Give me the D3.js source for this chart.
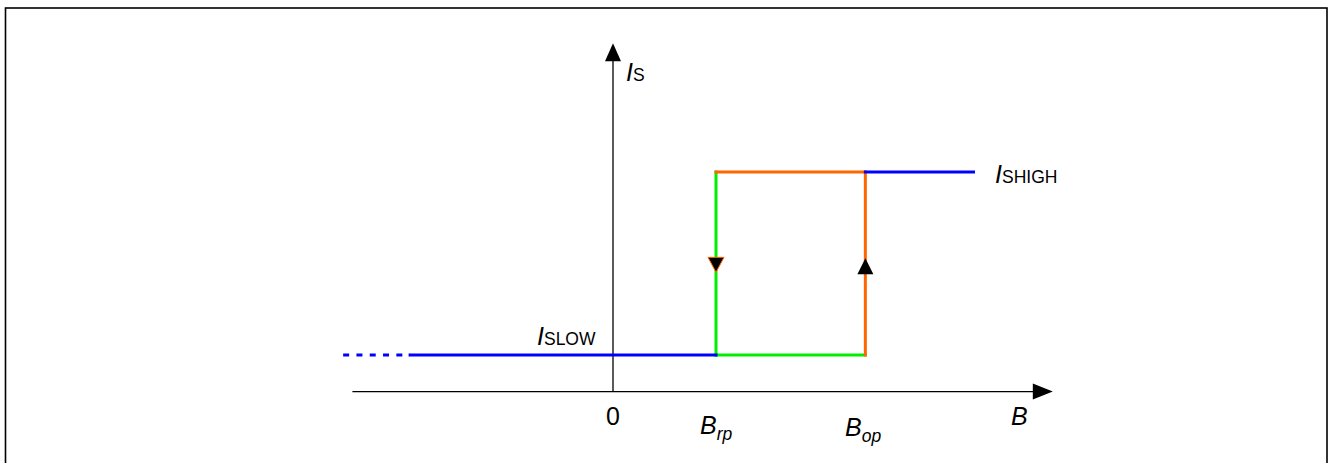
<!DOCTYPE html>
<html>
<head>
<meta charset="utf-8">
<script src="https://cdn.jsdelivr.net/npm/d3@7"></script>
<style>
  body { margin: 0; background: #fff; }
  text { font-family: Arial, "Liberation Sans", sans-serif; }
</style>
</head>
<body>
<div id="app"></div>
<script>
// field values (B, arbitrary units) and supply current levels (I, arbitrary units)
const fieldMarks = [
  { name: "0", value: 0 },
  { name: "Brp", value: 1 },
  { name: "Bop", value: 2.45 }
];
const currentLevels = { low: 1, high: 6 };
const fieldRange = [-2.53, 4.27];   // x axis extent
const currentRange = [0, 9.52];     // y axis extent

// hysteresis segments: [x1, y1, x2, y2]
const lowTail = [[-2.62, 1, -1.97, 1]];               // dashed part
const blueSegs = [[-1.97, 1, 1, 1], [2.45, 6, 3.5, 6]];
const greenSegs = [[1, 6, 1, 1], [1, 1, 2.45, 1]];
const orangeSegs = [[1, 6, 2.45, 6], [2.45, 6, 2.45, 1]];

// direction markers: [x, y, direction]
const markers = [
  { x: 1, y: 3.45, dir: "down" },
  { x: 2.45, y: 3.45, dir: "up" }
];

const w = 1329;
const h = 463;

const svg = d3.select("#app").append("svg").attr("width", w).attr("height", h);

// frame
svg.append("rect")
  .attr("x", 5.5).attr("y", 8)
  .attr("width", 1321.5).attr("height", 500)
  .attr("fill", "none").attr("stroke", "#000").attr("stroke-width", 1.6);

const scaleX = d3.scaleLinear().domain([0, 1]).range([613, 716]);
const scaleY = d3.scaleLinear().domain([0, 6]).range([391.6, 172]);

// axes
const x0 = scaleX(0), y0 = scaleY(0);
svg.append("line")
  .attr("x1", scaleX(fieldRange[0])).attr("x2", scaleX(fieldRange[1]) - 10)
  .attr("y1", y0).attr("y2", y0)
  .attr("stroke", "#000").attr("stroke-width", 1.3);
svg.append("path")
  .attr("d", `M${scaleX(fieldRange[1])},${y0} L${scaleX(fieldRange[1]) - 20},${y0 - 8} L${scaleX(fieldRange[1]) - 20},${y0 + 8} Z`)
  .attr("fill", "#000");

svg.append("line")
  .attr("x1", x0).attr("x2", x0)
  .attr("y1", y0).attr("y2", scaleY(currentRange[1]) + 10)
  .attr("stroke", "#000").attr("stroke-width", 1.3);
svg.append("path")
  .attr("d", `M${x0},${scaleY(currentRange[1])} L${x0 - 8},${scaleY(currentRange[1]) + 18} L${x0 + 8},${scaleY(currentRange[1]) + 18} Z`)
  .attr("fill", "#000");

// segments
const drawSegs = (segs, color, dash) => {
  svg.append("g").selectAll("line")
    .data(segs)
    .enter()
    .append("line")
    .attr("x1", (d) => scaleX(d[0]))
    .attr("y1", (d) => scaleY(d[1]))
    .attr("x2", (d) => scaleX(d[2]))
    .attr("y2", (d) => scaleY(d[3]))
    .attr("stroke", color)
    .attr("stroke-width", 3)
    .attr("stroke-linecap", dash ? "butt" : "square")
    .attr("stroke-dasharray", dash || null);
};
drawSegs(lowTail, "#0000ff", "6,7.3");
drawSegs(greenSegs, "#00ee00");
drawSegs(orangeSegs, "#ff6600");
drawSegs(blueSegs, "#0000ff");

// direction arrows
svg.append("g").selectAll("path")
  .data(markers)
  .enter()
  .append("path")
  .attr("d", (d) => {
    const cx = scaleX(d.x), cy = scaleY(d.y);
    return d.dir === "down"
      ? `M${cx - 8},${cy - 8} L${cx + 8},${cy - 8} L${cx},${cy + 7} Z`
      : `M${cx},${cy - 7} L${cx - 8},${cy + 9} L${cx + 8},${cy + 9} Z`;
  })
  .attr("fill", "#000")
  .attr("stroke", (d) => (d.dir === "down" ? "#ff6600" : "none"))
  .attr("stroke-width", 1);

// labels
const label = (x, y, main, sub, italicSub) => {
  const t = svg.append("text").attr("x", x).attr("y", y).attr("fill", "#000");
  t.append("tspan").attr("font-size", 25).attr("font-style", "italic").text(main);
  if (sub) {
    t.append("tspan")
      .attr("font-size", 17.5)
      .attr("font-style", italicSub ? "italic" : "normal")
      .attr("dy", italicSub ? 6 : 0)
      .text(sub);
  }
};
label(626, 81, "I", "S");
label(537, 345, "I", "SLOW");
label(995, 183, "I", "SHIGH");
label(700, 434, "B", "rp", true);
label(845, 436, "B", "op", true);
label(1011, 425, "B");

svg.append("text")
  .attr("x", scaleX(fieldMarks[0].value))
  .attr("y", 425)
  .attr("text-anchor", "middle")
  .attr("font-size", 25)
  .text(fieldMarks[0].name);
</script>
</body>
</html>
